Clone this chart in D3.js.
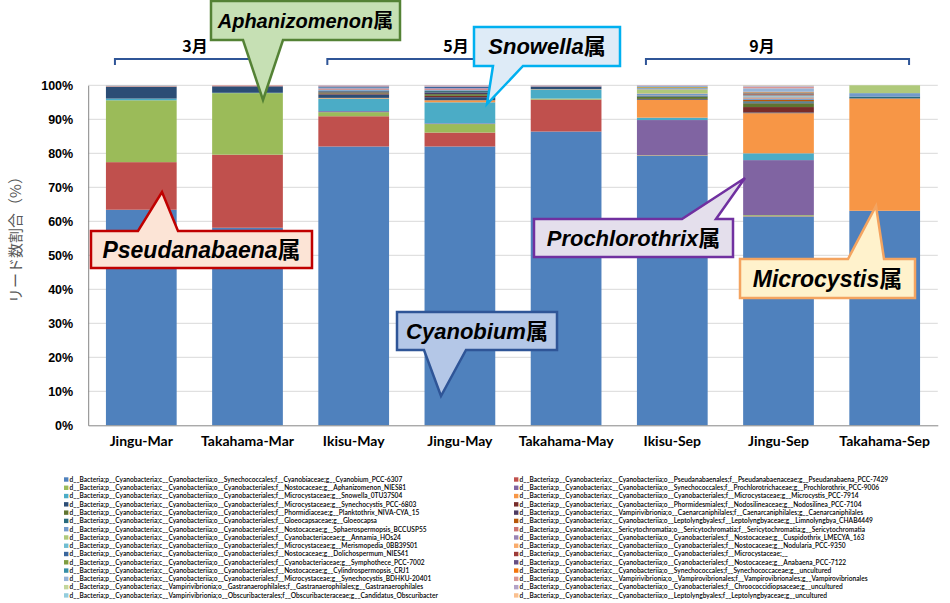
<!DOCTYPE html>
<html><head><meta charset="utf-8">
<script src="https://cdn.jsdelivr.net/npm/d3@7/dist/d3.min.js"></script>
<style>body{margin:0;background:#fff}svg{display:block}</style>
</head><body><svg id="chart" width="950" height="603"></svg>
<script>
// ---------------- data ----------------
const categories = ["Jingu-Mar","Takahama-Mar","Ikisu-May","Jingu-May","Takahama-May","Ikisu-Sep","Jingu-Sep","Takahama-Sep"];

const seriesNames = [
"d__Bacteria;p__Cyanobacteria;c__Cyanobacteriia;o__Synechococcales;f__Cyanobiaceae;g__Cyanobium_PCC-6307",
"d__Bacteria;p__Cyanobacteria;c__Cyanobacteriia;o__Pseudanabaenales;f__Pseudanabaenaceae;g__Pseudanabaena_PCC-7429",
"d__Bacteria;p__Cyanobacteria;c__Cyanobacteriia;o__Cyanobacteriales;f__Nostocaceae;g__Aphanizomenon_NIES81",
"d__Bacteria;p__Cyanobacteria;c__Cyanobacteriia;o__Synechococcales;f__Prochlorotrichaceae;g__Prochlorothrix_PCC-9006",
"d__Bacteria;p__Cyanobacteria;c__Cyanobacteriia;o__Cyanobacteriales;f__Microcystaceae;g__Snowella_0TU37S04",
"d__Bacteria;p__Cyanobacteria;c__Cyanobacteriia;o__Cyanobacteriales;f__Microcystaceae;g__Microcystis_PCC-7914",
"d__Bacteria;p__Cyanobacteria;c__Cyanobacteriia;o__Cyanobacteriales;f__Microcystaceae;g__Synechocystis_PCC-6803",
"d__Bacteria;p__Cyanobacteria;c__Cyanobacteriia;o__Phormidesmiales;f__Nodosilineaceae;g__Nodosilinea_PCC-7104",
"d__Bacteria;p__Cyanobacteria;c__Cyanobacteriia;o__Cyanobacteriales;f__Phormidiaceae;g__Planktothrix_NIVA-CYA_15",
"d__Bacteria;p__Cyanobacteria;c__Vampirivibrionia;o__Caenarcaniphilales;f__Caenarcaniphilales;g__Caenarcaniphilales",
"d__Bacteria;p__Cyanobacteria;c__Cyanobacteriia;o__Cyanobacteriales;f__Gloeocapsaceae;g__Gloeocapsa",
"d__Bacteria;p__Cyanobacteria;c__Cyanobacteriia;o__Leptolyngbyales;f__Leptolyngbyaceae;g__Limnolyngbya_CHAB4449",
"d__Bacteria;p__Cyanobacteria;c__Cyanobacteriia;o__Cyanobacteriales;f__Nostocaceae;g__Sphaerospermopsis_BCCUSP55",
"d__Bacteria;p__Cyanobacteria;c__Sericytochromatia;o__Sericytochromatia;f__Sericytochromatia;g__Sericytochromatia",
"d__Bacteria;p__Cyanobacteria;c__Cyanobacteriia;o__Cyanobacteriales;f__Cyanobacteriaceae;g__Annamia_HOs24",
"d__Bacteria;p__Cyanobacteria;c__Cyanobacteriia;o__Cyanobacteriales;f__Nostocaceae;g__Cuspidothrix_LMECYA_163",
"d__Bacteria;p__Cyanobacteria;c__Cyanobacteriia;o__Cyanobacteriales;f__Microcystaceae;g__Merismopedia_0BB39S01",
"d__Bacteria;p__Cyanobacteria;c__Cyanobacteriia;o__Cyanobacteriales;f__Nostocaceae;g__Nodularia_PCC-9350",
"d__Bacteria;p__Cyanobacteria;c__Cyanobacteriia;o__Cyanobacteriales;f__Nostocaceae;g__Dolichospermum_NIES41",
"d__Bacteria;p__Cyanobacteria;c__Cyanobacteriia;o__Cyanobacteriales;f__Microcystaceae;__",
"d__Bacteria;p__Cyanobacteria;c__Cyanobacteriia;o__Cyanobacteriales;f__Cyanobacteriaceae;g__Symphothece_PCC-7002",
"d__Bacteria;p__Cyanobacteria;c__Cyanobacteriia;o__Cyanobacteriales;f__Nostocaceae;g__Anabaena_PCC-7122",
"d__Bacteria;p__Cyanobacteria;c__Cyanobacteriia;o__Cyanobacteriales;f__Nostocaceae;g__Cylindrospermopsis_CRJ1",
"d__Bacteria;p__Cyanobacteria;c__Cyanobacteriia;o__Synechococcales;f__Synechococcaceae;g__uncultured",
"d__Bacteria;p__Cyanobacteria;c__Cyanobacteriia;o__Cyanobacteriales;f__Microcystaceae;g__Synechocystis_BDHKU-20401",
"d__Bacteria;p__Cyanobacteria;c__Vampirivibrionia;o__Vampirovibrionales;f__Vampirovibrionales;g__Vampirovibrionales",
"d__Bacteria;p__Cyanobacteria;c__Vampirivibrionia;o__Gastranaerophilales;f__Gastranaerophilales;g__Gastranaerophilales",
"d__Bacteria;p__Cyanobacteria;c__Cyanobacteriia;o__Cyanobacteriales;f__Chroococcidiopsaceae;g__uncultured",
"d__Bacteria;p__Cyanobacteria;c__Vampirivibrionia;o__Obscuribacterales;f__Obscuribacteraceae;g__Candidatus_Obscuribacter",
"d__Bacteria;p__Cyanobacteria;c__Cyanobacteriia;o__Leptolyngbyales;f__Leptolyngbyaceae;g__uncultured"
];

// read share (%) per series, one row per genus, columns follow categories
const shares = [
[63.4,58.1,82.0,82.0,86.4,79.1,61.4,63.1],
[14.0,21.5, 8.9, 4.1, 9.4, 0.1, 0.1, 0.0],
[18.2,18.1, 1.2, 2.5, 0.3, 0.1, 0.3, 0.0],
[ 0.0, 0.0, 0.3, 0.2, 0.0,10.3,16.2, 0.0],
[ 0.5, 0.1, 3.7, 6.2, 2.7, 0.7, 2.0, 0.0],
[ 0.0, 0.0, 0.2, 0.6, 0.1, 5.2,11.8,33.0],
[ 3.4, 1.9, 1.0, 0.9, 0.7, 0.2, 0.2, 0.1],
[ 0.0, 0.0, 0.3, 0.4, 0.0, 0.1, 1.6, 0.0],
[ 0.0, 0.0, 0.3, 0.5, 0.0, 0.6, 1.1, 0.0],
[ 0.0, 0.0, 0.3, 0.5, 0.0, 0.1, 0.2, 0.0],
[ 0.1, 0.0, 0.2, 0.4, 0.0, 0.2, 0.4, 0.5],
[ 0.0, 0.0, 0.0, 0.1, 0.0, 0.1, 0.4, 0.0],
[ 0.0, 0.0, 0.3, 0.3, 0.1, 0.5, 0.3, 1.0],
[ 0.1, 0.1, 0.2, 0.3, 0.1, 0.1, 0.2, 0.0],
[ 0.0, 0.0, 0.1, 0.0, 0.0, 1.2, 0.2, 2.3],
[ 0.0, 0.0, 0.2, 0.2, 0.0, 0.2, 0.2, 0.0],
[ 0.0, 0.0, 0.1, 0.0, 0.0, 0.1, 0.2, 0.0],
[ 0.0, 0.0, 0.0, 0.0, 0.0, 0.0, 0.2, 0.0],
[ 0.0, 0.0, 0.3, 0.3, 0.0, 0.1, 0.2, 0.0],
[ 0.0, 0.0, 0.0, 0.0, 0.0, 0.0, 0.2, 0.0],
[ 0.0, 0.0, 0.0, 0.0, 0.0, 0.2, 0.2, 0.0],
[ 0.0, 0.0, 0.1, 0.1, 0.0, 0.0, 0.2, 0.0],
[ 0.0, 0.0, 0.0, 0.0, 0.0, 0.0, 0.1, 0.0],
[ 0.0, 0.0, 0.0, 0.0, 0.0, 0.1, 0.2, 0.0],
[ 0.0, 0.0, 0.0, 0.1, 0.1, 0.3, 1.0, 0.0],
[ 0.2, 0.2, 0.2, 0.2, 0.1, 0.1, 0.4, 0.0],
[ 0.0, 0.0, 0.0, 0.0, 0.0, 0.0, 0.1, 0.0],
[ 0.0, 0.0, 0.1, 0.1, 0.0, 0.1, 0.2, 0.0],
[ 0.1, 0.0, 0.0, 0.0, 0.0, 0.0, 0.1, 0.0],
[ 0.0, 0.0, 0.0, 0.0, 0.0, 0.0, 0.1, 0.0]
];

const yTickValues = [0,0.1,0.2,0.3,0.4,0.5,0.6,0.7,0.8,0.9,1.0];
const monthLabels = ["3月","5月","9月"];
const monthRanges = [[0,1],[2,4],[5,7]];
const calloutGenera = ["Aphanizomenon","Snowella","Pseudanabaena","Prochlorothrix","Microcystis","Cyanobium"];

// ---------------- styles ----------------
const palette = [
"#4F81BD","#C0504D","#9BBB59","#8064A2","#4BACC6","#F79646",
"#2C4D75","#772C2A","#5F7530","#4D3B62","#276A7C","#B65708",
"#729ACA","#CD7371","#AFC97A","#9983B5","#6FBDD1","#F9AB6B",
"#3A669C","#9D3B38","#7E9D40","#674F83","#358EA6","#F3740B",
"#95B3D7","#D99694","#C3D69B","#B3A2C7","#93CDDD","#FAC090"];

const svg = d3.select("#chart");
const plot = {left: 88.2, right: 937.8, top: 85.3, bottom: 425.3};

const x = d3.scaleBand().domain(categories).range([plot.left, plot.right])
  .paddingInner(0.334).paddingOuter(0.167);
const y = d3.scaleLinear().domain([0,1]).range([plot.bottom, plot.top]);

// gridlines
svg.append("g").selectAll("line").data(yTickValues.slice(1)).join("line")
  .attr("x1", plot.left).attr("x2", plot.right)
  .attr("y1", d => y(d)).attr("y2", d => y(d))
  .attr("stroke", "#D9D9D9").attr("stroke-width", 1);

// stacked data (100% stacked)
const rows = categories.map((c, i) => {
  const o = {cat: c};
  seriesNames.forEach((s, k) => o[k] = shares[k][i]);
  return o;
});
const keys = seriesNames.map((s, k) => k);
const stacked = d3.stack().keys(keys).offset(d3.stackOffsetExpand)(rows);

const gBars = svg.append("g");
stacked.forEach((layer, k) => {
  gBars.append("g").attr("fill", palette[k]).selectAll("rect").data(layer).join("rect")
    .attr("x", d => x(d.data.cat))
    .attr("width", x.bandwidth())
    .attr("y", d => y(d[1]))
    .attr("height", d => Math.max(0, y(d[0]) - y(d[1])));
});

// axes
const yAxis = d3.axisLeft(y).tickValues(yTickValues).tickFormat(d3.format(".0%")).tickSize(0).tickPadding(15);
const gy = svg.append("g").attr("transform", `translate(${plot.left},0)`).call(yAxis);
gy.select(".domain").attr("stroke", "#868686");
gy.selectAll("text").attr("font-family", "'Liberation Sans', Arial, sans-serif")
  .attr("font-size", 12.5).attr("font-weight", "bold").attr("fill", "#000");

const xAxis = d3.axisBottom(x).tickSize(0).tickPadding(11);
const gx = svg.append("g").attr("transform", `translate(0,${plot.bottom})`).call(xAxis);
gx.select(".domain").attr("stroke", "#868686");
gx.selectAll("text").attr("font-family", "Lato, 'Open Sans', sans-serif")
  .attr("font-size", 14).attr("font-weight", "bold").attr("fill", "#000");

// y title
svg.append("text")
  .attr("transform", "translate(21,236) rotate(-90)")
  .attr("text-anchor", "middle")
  .attr("font-family", "'Noto Sans CJK JP', sans-serif")
  .attr("font-size", 15).attr("fill", "#595959")
  .text("リード数割合（%）");

// month brackets
const bracketColor = "#2F5597";
monthRanges.forEach((r, i) => {
  const x0 = x(categories[r[0]]) + 9, x1 = x(categories[r[1]]) + x.bandwidth() - 11;
  svg.append("path")
    .attr("d", `M${x0},65 L${x0},59 L${x1},59 L${x1},65`)
    .attr("fill", "none").attr("stroke", bracketColor).attr("stroke-width", 2);
  const lx = [195, 456, 762][i];
  svg.append("text").attr("x", lx).attr("y", 52).attr("text-anchor", "middle")
    .attr("font-family", "'Noto Sans CJK JP', sans-serif").attr("font-weight", "bold")
    .attr("font-size", 16).attr("fill", "#000").text(monthLabels[i]);
});

// legend (two columns, row-major order)
const legend = svg.append("g");
const legRow0 = 479.5, legStep = 8.28;
const legFamily = "Lato, 'Liberation Sans', sans-serif";
const probe = legend.append("text").attr("font-family", legFamily)
  .attr("font-size", 10).text(seriesNames[0]);
const probeW = probe.node().getComputedTextLength();
probe.remove();
const legFont = Math.min(8, 10 * 331 / probeW);
seriesNames.forEach((name, k) => {
  const col = k % 2, row = Math.floor(k / 2);
  const sx = col === 0 ? 64 : 514;
  const cy = legRow0 + row * legStep;
  legend.append("rect").attr("x", sx).attr("y", cy - 2.2).attr("width", 4.4).attr("height", 4.4)
    .attr("fill", palette[k]);
  legend.append("text").attr("x", sx + 5.6).attr("y", cy).attr("dy", "0.35em")
    .attr("font-family", legFamily).attr("font-weight", 600)
    .attr("font-size", legFont).attr("fill", "#000").text(name);
});

// callouts
const callouts = [
 {box:[211,1,400,40], side:"bottom", a:243, b:283, tip:[263,100], fill:"#C6E0B4", stroke:"#548235", fs:20},
 {box:[474,27,620,66], side:"bottom", a:493, b:523, tip:[487,104], fill:"#DEEBF7", stroke:"#00B0F0", fs:22},
 {box:[91,231,312,268], side:"top", a:138, b:178, tip:[162,192], fill:"#FCE4D6", stroke:"#C00000", fs:23},
 {box:[534,219,733,257], side:"top", a:682, b:716, tip:[745,178], fill:"#E4DFEC", stroke:"#7030A0", fs:22},
 {box:[740,259,915,298], side:"top", a:848, b:884, tip:[876,206], fill:"#FFF2CC", stroke:"#F4A460", fs:23},
 {box:[397,312,557,350], side:"bottom", a:424, b:466, tip:[441,396], fill:"#B4C7E7", stroke:"#2F5597", fs:22}
];
callouts.forEach((c, i) => {
  const [x0,y0,x1,y1] = c.box;
  let d;
  if (c.side === "bottom") {
    d = `M${x0},${y0} L${x1},${y0} L${x1},${y1} L${c.b},${y1} L${c.tip[0]},${c.tip[1]} L${c.a},${y1} L${x0},${y1} Z`;
  } else {
    d = `M${x0},${y0} L${c.a},${y0} L${c.tip[0]},${c.tip[1]} L${c.b},${y0} L${x1},${y0} L${x1},${y1} L${x0},${y1} Z`;
  }
  svg.append("path").attr("d", d).attr("fill", c.fill).attr("stroke", c.stroke)
    .attr("stroke-width", 2.5).attr("stroke-linejoin", "miter");
  const t = svg.append("text").attr("x", (x0+x1)/2).attr("y", (y0+y1)/2).attr("dy", "0.36em")
    .attr("text-anchor", "middle").attr("font-size", c.fs).attr("font-weight", "bold").attr("fill", "#000");
  t.append("tspan").attr("font-family", "'Liberation Sans', Arial, sans-serif").attr("font-style", "italic")
    .text(calloutGenera[i]);
  t.append("tspan").attr("font-family", "'Noto Sans CJK JP', sans-serif").text("属");
});
</script>
</body></html>
